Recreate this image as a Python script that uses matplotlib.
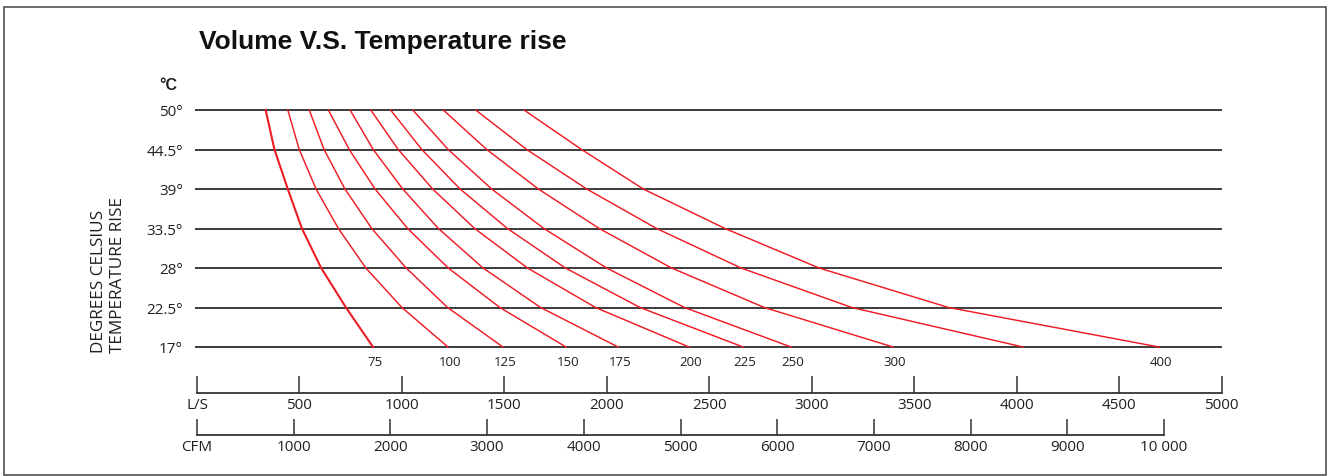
import matplotlib
matplotlib.use('Agg')
import matplotlib.pyplot as plt
from matplotlib.patches import Rectangle

# temperature rise gridlines (degrees C)
temps = [50, 44.5, 39, 33.5, 28, 22.5, 17]
temp_labels = ['50°', '44.5°', '39°', '33.5°', '28°', '22.5°', '17°']

# volume (L/S) read at each temperature gridline, one list per curve
c75 = [335, 378, 443, 512, 606, 727, 859]
c100 = [443, 499, 581, 690, 824, 1000, 1225]
c125 = [548, 620, 722, 853, 1021, 1223, 1493]
c150 = [641, 743, 869, 1028, 1226, 1478, 1801]
c175 = [747, 860, 1004, 1178, 1396, 1677, 2055]
c200 = [848, 982, 1150, 1355, 1613, 1945, 2401]
c225 = [945, 1097, 1284, 1515, 1798, 2162, 2665]
c250 = [1053, 1226, 1438, 1693, 1999, 2379, 2899]
c300 = [1202, 1414, 1666, 1963, 2316, 2769, 3397]
c350 = [1360, 1609, 1902, 2243, 2655, 3196, 4031]
c400 = [1596, 1877, 2178, 2577, 3036, 3668, 4695]
curves = [c75, c100, c125, c150, c175, c200, c225, c250, c300, c350, c400]
curve_labels = ['75', '100', '125', '150', '175', '200', '225', '250', '300', '', '400']

ls_ticks = [0, 500, 1000, 1500, 2000, 2500, 3000, 3500, 4000, 4500, 5000]
ls_labels = ['L/S', '500', '1000', '1500', '2000', '2500', '3000', '3500', '4000', '4500', '5000']
cfm_ticks = [0, 1000, 2000, 3000, 4000, 5000, 6000, 7000, 8000, 9000, 10000]
cfm_labels = ['CFM', '1000', '2000', '3000', '4000', '5000', '6000', '7000', '8000', '9000', '10 000']
LS_TO_CFM = 2.11888

W, H = 1328, 477
TXT = '#231f20'
RED = '#ee1c24'
plt.rcParams['font.family'] = ['Open Sans', 'DejaVu Sans']

fig = plt.figure(figsize=(W / 100, H / 100), dpi=100)

# outer frame
fig.patches.append(Rectangle((4 / W, 1 / H), 1322 / W, 468 / H, transform=fig.transFigure,
                             fill=False, edgecolor='#444444', linewidth=1.1))

fig.text(199 / W, 1 - 42 / H, 'Volume V.S. Temperature rise', fontsize=19, fontweight='bold',
         family='Liberation Sans', color='#111111', ha='left', va='center')
fig.text(168 / W, 1 - 85 / H, '°C', fontsize=11.5, fontweight='bold',
         family='Liberation Sans', color=TXT, ha='center', va='center')
fig.text(109 / W, 1 - 353 / H, 'DEGREES CELSIUS\nTEMPERATURE RISE', rotation=90,
         fontsize=12.3, color=TXT, ha='center', va='bottom', multialignment='left',
         linespacing=1.25)

left = 197 / W
width = 1024.5 / W
ax = fig.add_axes([left, 1 - 348 / H, width, (348 - 111) / H])
ax.set_xlim(0, 5000)
ax.set_ylim(17, 50)
for s in ax.spines.values():
    s.set_visible(False)
ax.set_xticks([])
ax.set_yticks(temps)
ax.set_yticklabels(temp_labels)
ax.tick_params(axis='y', length=0, pad=10, labelsize=11, labelcolor=TXT)
ax.hlines(temps, -10, 5000, colors='#1a1a1a', linewidth=1.2, clip_on=False, zorder=1)

for i, c in enumerate(curves):
    lw = 1.5 if i == 0 else 1.05
    ax.plot(c, temps, color=RED, linewidth=lw, clip_on=False, zorder=2,
            solid_joinstyle='round')
    if curve_labels[i]:
        ax.annotate(curve_labels[i], (c[-1], 17), xytext=(1.5, -10.5), textcoords='offset points',
                    ha='center', va='center', fontsize=9.5, color=TXT)

# L/S scale
ax_ls = fig.add_axes([left, 1 - 394 / H, width, 0.03])
ax_ls.set_xlim(0, 5000)
ax_ls.patch.set_visible(False)
for k in ['top', 'left', 'right']:
    ax_ls.spines[k].set_visible(False)
ax_ls.spines['bottom'].set_bounds(0, 5000)
ax_ls.spines['bottom'].set_linewidth(1.3)
ax_ls.spines['bottom'].set_color('#333333')
ax_ls.set_yticks([])
ax_ls.set_xticks(ls_ticks)
ax_ls.set_xticklabels(ls_labels)
ax_ls.tick_params(axis='x', direction='in', length=12, width=1.1, color='#333333',
                  pad=3, labelsize=11, labelcolor=TXT)

# CFM scale
ax_cfm = fig.add_axes([left, 1 - 436 / H, width, 0.03])
ax_cfm.set_xlim(0, 5000 * LS_TO_CFM)
ax_cfm.patch.set_visible(False)
for k in ['top', 'left', 'right']:
    ax_cfm.spines[k].set_visible(False)
ax_cfm.spines['bottom'].set_bounds(0, 10000)
ax_cfm.spines['bottom'].set_linewidth(1.3)
ax_cfm.spines['bottom'].set_color('#333333')
ax_cfm.set_yticks([])
ax_cfm.set_xticks(cfm_ticks)
ax_cfm.set_xticklabels(cfm_labels)
ax_cfm.tick_params(axis='x', direction='in', length=11.5, width=1.1, color='#333333',
                   pad=3, labelsize=11, labelcolor=TXT)

fig.savefig('out.png', dpi=100)
